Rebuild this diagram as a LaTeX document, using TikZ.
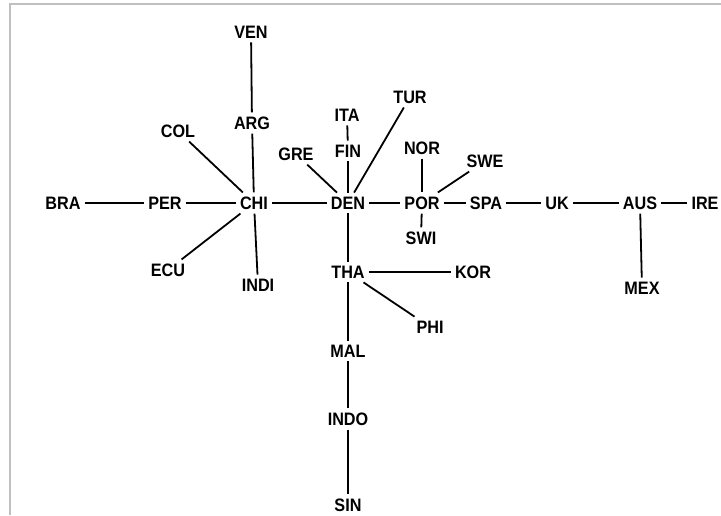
\documentclass[tikz,border=0pt]{standalone}
\usepackage{fontspec}
\setmainfont{Liberation Sans}
\newfontfamily\lblfont[FakeStretch=0.9]{Liberation Sans}
\usepackage{tikz}

\begin{document}
\begin{tikzpicture}[x=1pt,y=-1pt,
  ctry/.style={font=\lblfont\bfseries\fontsize{18}{18}\selectfont, inner sep=4pt},
  link/.style={line width=1.8pt}]
  \useasboundingbox (0,0) rectangle (721,515);
  % frame of the screenshot
  \draw[black!25, line width=1.5pt] (10,515) -- (10,4) -- (721,4);
  % countries
  \node[ctry] (ven) at (251,32) {VEN};
  \node[ctry] (arg) at (252,123) {ARG};
  \node[ctry] (col) at (178,131) {COL};
  \node[ctry] (ita) at (347,115) {ITA};
  \node[ctry] (tur) at (410,97) {TUR};
  \node[ctry] (fin) at (348,151) {FIN};
  \node[ctry] (gre) at (296,154) {GRE};
  \node[ctry] (nor) at (422,148) {NOR};
  \node[ctry] (swe) at (485,161) {SWE};
  \node[ctry] (bra) at (63,203) {BRA};
  \node[ctry] (per) at (165,203) {PER};
  \node[ctry] (chi) at (254,203) {CHI};
  \node[ctry] (den) at (348,203) {DEN};
  \node[ctry] (por) at (422,203) {POR};
  \node[ctry] (spa) at (486,203) {SPA};
  \node[ctry] (uk) at (557,203) {UK};
  \node[ctry] (aus) at (640,203) {AUS};
  \node[ctry] (ire) at (705,203) {IRE};
  \node[ctry] (swi) at (421,238) {SWI};
  \node[ctry] (ecu) at (168,270) {ECU};
  \node[ctry] (indi) at (258,285) {INDI};
  \node[ctry] (tha) at (348,272) {THA};
  \node[ctry] (kor) at (473,272) {KOR};
  \node[ctry] (phi) at (430,327) {PHI};
  \node[ctry] (mex) at (642,288) {MEX};
  \node[ctry] (mal) at (348,351) {MAL};
  \node[ctry] (indo) at (348,419) {INDO};
  \node[ctry] (sin) at (348,505) {SIN};
  % links
  \foreach \a/\b in {ven/arg, arg/chi, col/chi, bra/per, per/chi, ecu/chi,
      indi/chi, chi/den, gre/den, ita/fin, fin/den, tur/den, den/por,
      nor/por, swe/por, swi/por, por/spa, spa/uk, uk/aus, aus/ire,
      aus/mex, den/tha, tha/kor, tha/phi, tha/mal, mal/indo, indo/sin}
    \draw[link] (\a) -- (\b);
\end{tikzpicture}
\end{document}
